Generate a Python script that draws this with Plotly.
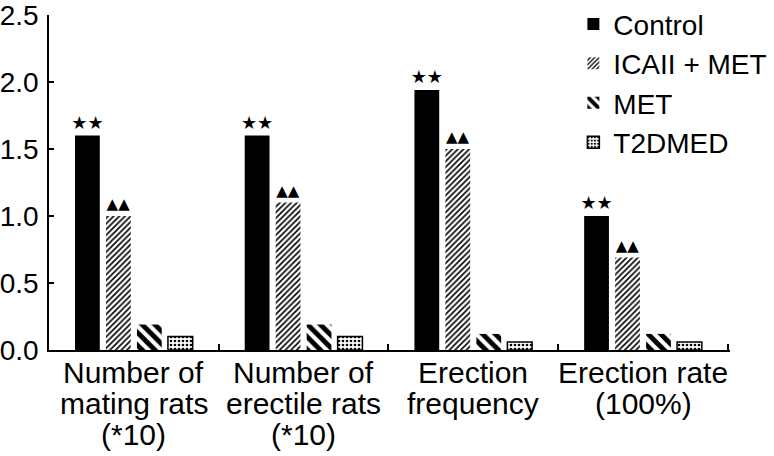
import plotly.graph_objects as go

categories = ["Number of<br>mating rats<br>(*10)", "Number of<br>erectile rats<br>(*10)",
              "Erection<br>frequency", "Erection rate<br>(100%)"]
control = [1.60, 1.60, 1.94, 1.00]
icaii_met = [1.00, 1.10, 1.50, 0.69]
met = [0.19, 0.19, 0.12, 0.12]
t2dmed = [0.10, 0.10, 0.06, 0.06]
control_marks = ["★★"] * 4
icaii_marks = ["▲▲"] * 4
y_ticks = [0.0, 0.5, 1.0, 1.5, 2.0, 2.5]

FONT = "Liberation Sans, Arial, sans-serif"

fig = go.Figure()
fig.add_trace(go.Bar(
    name="Control", x=categories, y=control,
    marker=dict(color="black", line=dict(width=0)),
    text=control_marks, textposition="outside", constraintext="none",
    textfont=dict(size=18, color="black", family="DejaVu Sans"),
    cliponaxis=False,
))
fig.add_trace(go.Bar(
    name="ICAII + MET", x=categories, y=icaii_met,
    marker=dict(color="white", line=dict(width=0),
                pattern=dict(shape="/", fgcolor="black", fgopacity=1, bgcolor="white",
                             size=4, solidity=0.4)),
    text=icaii_marks, textposition="outside", constraintext="none",
    textfont=dict(size=15, color="black", family="DejaVu Sans"),
    cliponaxis=False,
))
fig.add_trace(go.Bar(
    name="MET", x=categories, y=met,
    marker=dict(color="white", line=dict(width=0),
                pattern=dict(shape="\\", fgcolor="black", fgopacity=1, bgcolor="white",
                             size=9, solidity=0.55)),
))
fig.add_trace(go.Bar(
    name="T2DMED", x=categories, y=t2dmed,
    marker=dict(color="white", line=dict(width=1.5, color="black"),
                pattern=dict(shape=".", fgcolor="black", fgopacity=1, bgcolor="white",
                             size=4, solidity=0.35)),
))

# multi-line category labels, one annotation per line for tight leading
line_shifts = [-22, -53, -84]
for cat in categories:
    for i, part in enumerate(cat.split("<br>")):
        fig.add_annotation(x=cat, xref="x", y=0, yref="paper", yshift=line_shifts[i],
                           text=part, showarrow=False, xanchor="center", yanchor="middle",
                           font=dict(size=30, family=FONT, color="black"))

fig.update_layout(
    width=774, height=456,
    margin=dict(l=49, r=44, t=15, b=106, autoexpand=False),
    paper_bgcolor="white", plot_bgcolor="white",
    barmode="group", bargap=0.27, bargroupgap=0.2,
    font=dict(family=FONT, size=28, color="black"),
    showlegend=True,
    legend=dict(x=0.77, y=1.047, xanchor="left", yanchor="top",
                font=dict(size=28, family=FONT), bgcolor="rgba(0,0,0,0)",
                itemwidth=30, tracegroupgap=0),
    xaxis=dict(showline=True, linecolor="black", linewidth=1.5,
               ticks="inside", ticklen=6, tickcolor="black", tickwidth=1.5,
               tickson="boundaries", showgrid=False, zeroline=False,
               showticklabels=False, automargin=False),
    yaxis=dict(range=[0, 2.5], tickvals=y_ticks, ticktext=[f"{v:.1f}" for v in y_ticks],
               showline=True, linecolor="black", linewidth=1.5,
               ticks="inside", ticklen=5, tickcolor="black", tickwidth=1.5,
               showgrid=False, zeroline=False, ticklabelstandoff=3, automargin=False,
               ticklabeloverflow="allow",
               tickfont=dict(size=28, family=FONT)),
)

fig.write_html("out.html", post_script="document.body.style.margin='0';",
               config={"displayModeBar": False})
